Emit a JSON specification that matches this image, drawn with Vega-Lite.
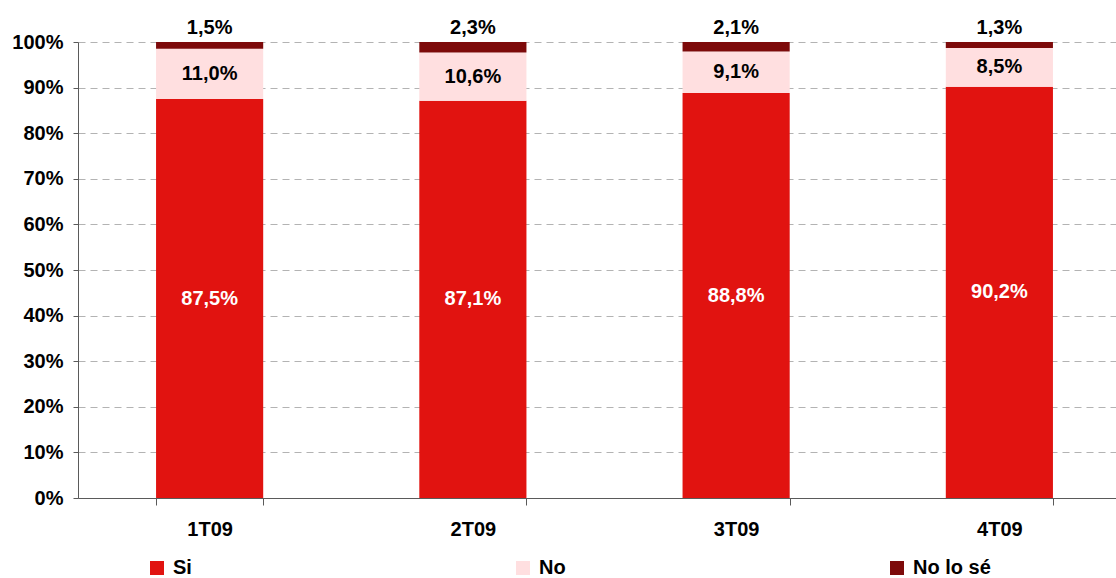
{
  "$schema": "https://vega.github.io/schema/vega-lite/v6.json",
  "width": 1053,
  "height": 456,
  "autosize": "none",
  "padding": {"left": 78, "top": 42, "right": 0, "bottom": 80},
  "config": {
    "locale": {"number": {"decimal": ",", "thousands": ".", "grouping": [3], "currency": ["", " €"]}},
    "view": {"stroke": null},
    "font": "Liberation Sans"
  },
  "data": {
    "values": [
      {"trimestre": "1T09", "respuesta": "Si", "orden": 1, "valor": 0.875},
      {"trimestre": "1T09", "respuesta": "No", "orden": 2, "valor": 0.110},
      {"trimestre": "1T09", "respuesta": "No lo sé", "orden": 3, "valor": 0.015},
      {"trimestre": "2T09", "respuesta": "Si", "orden": 1, "valor": 0.871},
      {"trimestre": "2T09", "respuesta": "No", "orden": 2, "valor": 0.106},
      {"trimestre": "2T09", "respuesta": "No lo sé", "orden": 3, "valor": 0.023},
      {"trimestre": "3T09", "respuesta": "Si", "orden": 1, "valor": 0.888},
      {"trimestre": "3T09", "respuesta": "No", "orden": 2, "valor": 0.091},
      {"trimestre": "3T09", "respuesta": "No lo sé", "orden": 3, "valor": 0.021},
      {"trimestre": "4T09", "respuesta": "Si", "orden": 1, "valor": 0.902},
      {"trimestre": "4T09", "respuesta": "No", "orden": 2, "valor": 0.085},
      {"trimestre": "4T09", "respuesta": "No lo sé", "orden": 3, "valor": 0.013}
    ]
  },
  "encoding": {
    "x": {
      "field": "trimestre",
      "type": "nominal",
      "sort": null,
      "scale": {"paddingInner": 0.593, "paddingOuter": 0.2965},
      "axis": {
        "title": null,
        "labelAngle": 0,
        "tickBand": "extent",
        "tickSize": 7,
        "domainColor": "#5a5a5a",
        "tickColor": "#5a5a5a",
        "labelFontSize": 20,
        "labelFontWeight": "bold",
        "labelColor": "#000000",
        "labelPadding": 14,
        "grid": false
      }
    }
  },
  "layer": [
    {
      "mark": {"type": "bar"},
      "encoding": {
        "y": {
          "field": "valor",
          "type": "quantitative",
          "stack": "zero",
          "scale": {"domain": [0, 1], "nice": false},
          "axis": {
            "title": null,
            "values": [0, 0.1, 0.2, 0.3, 0.4, 0.5, 0.6, 0.7, 0.8, 0.9, 1],
            "format": ".0%",
            "grid": true,
            "gridDash": [7, 5],
            "gridColor": "#b3b3b3",
            "domainColor": "#5a5a5a",
            "tickColor": "#5a5a5a",
            "tickSize": 5,
            "labelFontSize": 20,
            "labelFontWeight": "bold",
            "labelColor": "#000000",
            "labelPadding": 10
          }
        },
        "color": {
          "field": "respuesta",
          "type": "nominal",
          "scale": {"domain": ["Si", "No", "No lo sé"], "range": ["#e11310", "#ffdfe0", "#7d0a0a"]},
          "legend": {
            "title": null,
            "orient": "none",
            "legendX": 69,
            "legendY": 516,
            "direction": "horizontal",
            "columns": 3,
            "columnPadding": 321,
            "gridAlign": "none",
            "symbolType": "square",
            "symbolSize": 196,
            "symbolStrokeWidth": 0,
            "labelFontSize": 20,
            "labelFontWeight": "bold",
            "labelColor": "#000000",
            "labelOffset": 6
          }
        },
        "order": {"field": "orden", "type": "quantitative"}
      }
    },
    {
      "transform": [
        {"stack": "valor", "groupby": ["trimestre"], "sort": [{"field": "orden"}], "as": ["v0", "v1"]},
        {"calculate": "(datum.v0 + datum.v1) / 2", "as": "medio"},
        {"filter": "datum.respuesta !== 'No lo sé'"}
      ],
      "mark": {"type": "text", "fontSize": 20, "fontWeight": "bold", "baseline": "middle", "align": "center"},
      "encoding": {
        "y": {"field": "medio", "type": "quantitative", "scale": {"domain": [0, 1], "nice": false}, "axis": {"title": null}},
        "text": {"field": "valor", "type": "quantitative", "format": ".1%"},
        "color": {"condition": {"test": "datum.respuesta === 'Si'", "value": "#ffffff"}, "value": "#000000"}
      }
    },
    {
      "transform": [
        {"stack": "valor", "groupby": ["trimestre"], "sort": [{"field": "orden"}], "as": ["v0", "v1"]},
        {"filter": "datum.respuesta === 'No lo sé'"}
      ],
      "mark": {"type": "text", "fontSize": 20, "fontWeight": "bold", "baseline": "middle", "align": "center", "dy": -14, "color": "#000000"},
      "encoding": {
        "y": {"field": "v1", "type": "quantitative", "scale": {"domain": [0, 1], "nice": false}, "axis": {"title": null}},
        "text": {"field": "valor", "type": "quantitative", "format": ".1%"}
      }
    }
  ]
}
